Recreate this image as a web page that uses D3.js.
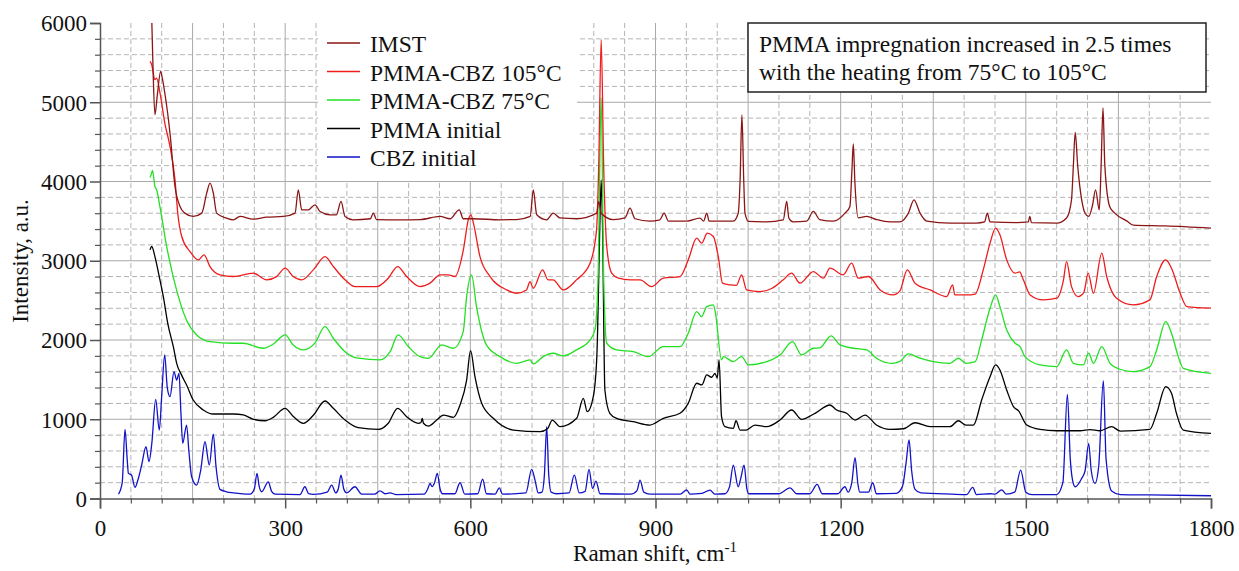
<!DOCTYPE html>
<html>
<head>
<meta charset="utf-8">
<script src="https://cdn.jsdelivr.net/npm/d3@7"></script>
<style>
  html, body { margin: 0; padding: 0; background: #fff; }
  svg { display: block; }
  svg text { font-family: "Liberation Serif", "DejaVu Serif", serif !important; }
</style>
</head>
<body>
<svg id="chart" width="1239" height="571"></svg>
<script>
// ---------------- DATA ----------------
const xTickValues = [0, 300, 600, 900, 1200, 1500, 1800];
const yTickValues = [0, 1000, 2000, 3000, 4000, 5000, 6000];
const seriesNames = ["IMST", "PMMA-CBZ 105°C", "PMMA-CBZ 75°C", "PMMA initial", "CBZ initial"];
const seriesColors = ["#8b1515", "#ee1c1c", "#22e022", "#000000", "#1212c8"];
const noteLines = ["PMMA impregnation increased in 2.5 times", "with the heating from 75°C to 105°C"];

const imst = [[84,6000],[86,5400],[89,4843],[93,5100],[98.2,5390],[101,5300],[105,5117],[113.4,4611],[121.5,3937],[129.6,3685],[137.7,3601],[151,3559],[164.8,3601],[172.9,3853],[178.2,3980],[183.6,3853],[189,3601],[205,3538],[216,3517],[226.8,3559],[248.4,3525],[270,3550],[297,3559],[316,3601],[321.3,3895],[326.8,3643],[337.6,3643],[348.3,3706],[356.5,3622],[373,3580],[383,3580],[390.5,3748],[397,3559],[410.4,3517],[438,3530],[442.8,3601],[448,3520],[486,3517],[518.5,3520],[551,3559],[567,3530],[582,3643],[588.6,3530],[605,3530],[648.4,3517],[675,3520],[697,3560],[702,3895],[707.6,3580],[723.7,3517],[734.4,3601],[745,3540],[772,3530],[804.6,3601],[808,3750],[812,3600],[831.6,3520],[850.5,3540],[858.7,3664],[866.8,3530],[891,3500],[907,3517],[914,3601],[921,3500],[950.6,3500],[972,3538],[978,3500],[983,3601],[987,3500],[1026,3500],[1034,3600],[1037,4000],[1040,4840],[1043,4000],[1045,3600],[1050.6,3496],[1080,3490],[1107,3517],[1112.6,3748],[1116,3540],[1123,3490],[1145,3500],[1155.7,3622],[1166,3520],[1188,3500],[1207,3601],[1215,3685],[1218,4100],[1220.5,4475],[1223,4000],[1228.6,3540],[1242,3559],[1258,3520],[1280,3490],[1296,3490],[1309.7,3601],[1318.8,3769],[1328.6,3601],[1339.6,3500],[1377,3475],[1420,3475],[1433,3490],[1437.6,3601],[1442,3490],[1485,3480],[1504,3490],[1506.5,3559],[1509,3480],[1550,3475],[1566,3540],[1574,3769],[1577,4200],[1580,4620],[1584,4200],[1590.5,3769],[1596,3600],[1601.8,3559],[1608,3700],[1613,3895],[1619,3643],[1622,4200],[1625,4930],[1628,4200],[1636,3680],[1644,3601],[1664,3500],[1674,3450],[1726,3440],[1800,3411]];

const pmmaCbz105 = [[81,5516],[83.8,5474],[89,5285],[91.7,5305],[97.2,5117],[105,4738],[113.4,4442],[121.5,4022],[126,3600],[132.4,3306],[145.8,3116],[159.3,3011],[168.5,3074],[178.2,2927],[194.4,2822],[216,2801],[248.4,2843],[270,2759],[286,2800],[300,2906],[313,2801],[326.8,2759],[345.6,2885],[364.6,3053],[378,2927],[397,2759],[413,2674],[448,2674],[467,2780],[482.2,2927],[496.8,2801],[518.5,2674],[534.7,2717],[550.9,2822],[564,2822],[575,2801],[588.7,3137],[596.7,3516],[601,3580],[605,3475],[615.6,3053],[632,2801],[659,2632],[675,2590],[691,2632],[696.7,2737],[702,2653],[717,2885],[726,2759],[734,2759],[750.6,2632],[772,2759],[794,2969],[804.5,3390],[808,4200],[812,5790],[816,4200],[821,3180],[829,2843],[840,2780],[859,2759],[875,2759],[893.7,2674],[912.7,2780],[939.7,2801],[953,3011],[966.8,3285],[974.7,3222],[984,3348],[993.7,3306],[1001.7,3053],[1008.6,2717],[1021,2695],[1031,2690],[1039.5,2822],[1047.6,2632],[1069,2611],[1088,2650],[1107,2759],[1120.5,2843],[1134,2717],[1155.7,2864],[1172,2780],[1182.7,2906],[1204,2822],[1217.8,2969],[1228.6,2780],[1245,2801],[1264,2632],[1285,2569],[1296,2620],[1308,2885],[1320.5,2717],[1345,2632],[1371.7,2548],[1381.4,2695],[1385,2570],[1404,2569],[1418,2580],[1431,2885],[1442,3222],[1451,3411],[1458,3327],[1469,3011],[1482.6,2843],[1490,2860],[1496,2759],[1507,2569],[1528,2506],[1550,2527],[1561,2759],[1566,2990],[1574,2674],[1585,2548],[1594,2600],[1601,2843],[1609.5,2590],[1623,3095],[1631,2801],[1647,2527],[1674,2443],[1701,2506],[1712,2801],[1726.6,3011],[1736,2906],[1750,2590],[1761,2421],[1800,2401]];

const pmmaCbz75 = [[81,4050],[83.7,4106],[85,4140],[89,3937],[91.7,3895],[97,3685],[108,3180],[124,2632],[140,2253],[156.6,2064],[178,1980],[216,1959],[232,1959],[264.6,1896],[281,1950],[300,2064],[313,1938],[329.4,1875],[348,1960],[364.6,2169],[378,2022],[397,1853],[418.5,1770],[453.7,1748],[470,1853],[483,2064],[499.5,1917],[518.5,1790],[532,1769],[553.6,1938],[572.5,1896],[588.5,2106],[594,2548],[602,2822],[610,2421],[626,1938],[648,1790],[675,1706],[696.7,1748],[702,1700],[718,1790],[734,1833],[750.6,1800],[772,1875],[794,2001],[802,2127],[807,2800],[812,5054],[816,2800],[821,1959],[837,1875],[864,1853],[888,1790],[912.7,1917],[939.7,1917],[953,2085],[966.8,2359],[974.7,2295],[983,2421],[993.7,2443],[997,2350],[1007,1748],[1010,1790],[1026,1727],[1039.5,1790],[1050.5,1685],[1080,1727],[1101.7,1811],[1122,1980],[1136.7,1811],[1155.6,1896],[1166,1900],[1184.4,2052],[1199,1938],[1220.5,1896],[1242,1875],[1258,1770],[1282.6,1706],[1296,1730],[1309.7,1824],[1328.6,1770],[1350,1727],[1377,1706],[1390.7,1770],[1403,1706],[1418,1727],[1428.4,2001],[1442,2400],[1451,2569],[1458,2421],[1469,2127],[1482.6,1959],[1490.6,1917],[1498.6,1790],[1523,1685],[1550,1664],[1566,1875],[1577,1706],[1593,1685],[1601.8,1833],[1609.5,1706],[1623,1917],[1636.4,1706],[1652.6,1631],[1674,1601],[1701,1664],[1712,1875],[1726.6,2232],[1736,2085],[1747,1790],[1755,1643],[1800,1580]];

const pmmaInitial = [[81,3137],[83.8,3180],[89,3053],[96,2800],[102.6,2548],[110,2200],[118.8,1916],[124.2,1706],[132,1560],[140.3,1432],[151,1243],[167.3,1117],[183.6,1066],[216,1066],[232.2,1054],[248.4,999],[267.4,981],[280.8,1024],[299.8,1138],[313.2,1035],[329.4,949],[345.6,1050],[364.6,1230],[378,1138],[397,990],[418.5,893],[451,872],[467,949],[482.2,1138],[496.8,1032],[515.7,949],[520,960],[522.2,1010],[524,950],[532,914],[545.5,990],[556.3,1053],[572.5,1024],[583.3,1180],[594,1495],[600.4,1866],[607.5,1537],[618.4,1201],[637.2,1012],[669.7,864],[712.9,843],[725,880],[732.8,990],[745.3,906],[772.3,1012],[783,1264],[789.5,1095],[799.2,1285],[805,1800],[810,3500],[812,4020],[814,3500],[818,1369],[826,1075],[837,1012],[864,969],[891,927],[912.7,1012],[939.7,1075],[953,1201],[966.8,1454],[975,1433],[983,1559],[991,1530],[996.4,1580],[1000,1520],[1003,1748],[1007,1032],[1012.6,906],[1026,885],[1030.4,981],[1037,864],[1047,864],[1061,927],[1080,906],[1101.7,990],[1120.5,1117],[1136.7,999],[1158.4,1075],[1182.7,1180],[1193.5,1117],[1209.7,1075],[1223.3,990],[1239.5,1053],[1258,927],[1280,872],[1302,880],[1320.5,956],[1344.8,906],[1377,906],[1390.7,981],[1403,927],[1415,927],[1428.4,1243],[1442,1537],[1451,1685],[1458,1622],[1469,1369],[1480,1158],[1488,1108],[1501.5,927],[1523,872],[1550,855],[1588,855],[1604,870],[1620,855],[1639,906],[1653,851],[1701,872],[1712,1075],[1726.6,1411],[1736,1327],[1744,1075],[1755,864],[1800,822]];

const cbzInitial = [[30,55],[36,200],[40.5,873],[44,500],[46,317],[51,296],[56.7,140],[62,250],[67.5,422],[74.5,653],[79.4,464],[84,700],[90.2,1252],[96.1,864],[100,1300],[104.8,1811],[109,1400],[113.4,1285],[119.9,1601],[124.2,1495],[128,1580],[131,1100],[134,696],[140.3,927],[144,600],[148.5,274],[156.6,169],[163,350],[170.1,716],[177.1,422],[183.6,813],[188,400],[194.4,115],[205,85],[216,72],[243,55],[250,120],[254.4,317],[258,150],[262,85],[272.6,211],[278,90],[283.6,55],[324,50],[332,148],[338,60],[345.6,52],[368,80],[375.4,169],[382,70],[386,120],[390.5,296],[395,120],[399.5,70],[413,148],[424,55],[445,55],[453.7,97],[462,60],[470,70],[480,50],[525,55],[531,120],[534.7,190],[538,150],[542,200],[546.5,317],[551,120],[555,60],[575,60],[583.3,199],[591,55],[612,60],[620,245],[626,60],[640,55],[647,135],[652,55],[690,70],[699.4,367],[704.8,232],[710,70],[716,80],[720,300],[723.7,906],[727,300],[731,80],[740,60],[760,70],[768.5,296],[776.5,70],[786,90],[792.3,367],[798,128],[803.6,220],[810,60],[860,55],[870,100],[875,232],[881,80],[891,55],[940,55],[950.6,110],[956,55],[975,65],[988.3,106],[996,55],[1012.6,60],[1020,150],[1026,422],[1034,148],[1038,250],[1043.5,422],[1048,120],[1051,60],[1100,60],[1118,135],[1129,60],[1150,60],[1162,178],[1170,60],[1195,60],[1207,148],[1212,80],[1218,200],[1223.3,514],[1228,180],[1231,80],[1245,80],[1252,199],[1258,60],[1290,65],[1300,150],[1306,450],[1310.8,738],[1315,350],[1320.5,115],[1330,70],[1380,55],[1404,50],[1414,140],[1420,50],[1442,60],[1450,55],[1461,110],[1468,55],[1482,80],[1491.6,359],[1500,80],[1510,50],[1550,50],[1560,200],[1567.3,1314],[1572,500],[1576,220],[1580,148],[1590.5,254],[1596,350],[1601.8,696],[1606,350],[1612,190],[1618,400],[1625.6,1487],[1630,500],[1639,95],[1653,50],[1700,45],[1800,35]];

const allSeries = [imst, pmmaCbz105, pmmaCbz75, pmmaInitial, cbzInitial];

// ---------------- LAYOUT ----------------
const FONT = "Liberation Serif, DejaVu Serif, serif";
const svg = d3.select("#chart");
const pLeft = 100, pRight = 1211, pTop = 23, pBottom = 498.5;

const x = d3.scaleLinear().domain([0, 1800]).range([pLeft, pRight]);
const y = d3.scaleLinear().domain([0, 6000]).range([pBottom, pTop]);

// grid
const grid = svg.append("g");
const xGridVals = d3.range(50, 1800, 50);
const yGridVals = d3.range(200, 6000, 200);
grid.selectAll("line.vx").data(xGridVals).join("line")
  .attr("x1", d => x(d)).attr("x2", d => x(d))
  .attr("y1", pTop).attr("y2", pBottom)
  .attr("stroke", d => d % 150 === 0 ? "#a9a9a9" : "#b4b4b4")
  .attr("stroke-width", 1)
  .attr("stroke-dasharray", d => d % 150 === 0 ? null : "5,3");
grid.selectAll("line.hy").data(yGridVals).join("line")
  .attr("x1", pLeft).attr("x2", pRight)
  .attr("y1", d => y(d)).attr("y2", d => y(d))
  .attr("stroke", d => d % 1000 === 0 ? "#a9a9a9" : "#b4b4b4")
  .attr("stroke-width", 1)
  .attr("stroke-dasharray", d => d % 1000 === 0 ? null : "5,3");

// legend background (covers grid)
svg.append("rect").attr("x", 318).attr("y", pTop).attr("width", 259).attr("height", 158)
  .attr("fill", "#fff");

// series
svg.append("clipPath").attr("id", "plotclip").append("rect")
  .attr("x", pLeft).attr("y", pTop).attr("width", pRight - pLeft).attr("height", pBottom - pTop);
const line = d3.line().x(d => x(d[0])).y(d => y(d[1])).curve(d3.curveMonotoneX);
const order = [4, 3, 2, 1, 0];
svg.append("g").attr("clip-path", "url(#plotclip)")
  .selectAll("path").data(order).join("path")
  .attr("d", i => line(allSeries[i]))
  .attr("fill", "none")
  .attr("stroke", i => seriesColors[i])
  .attr("stroke-width", 1.3)
  .attr("stroke-linejoin", "round");

// axes
const axisColor = "#555";
const xAxis = d3.axisBottom(x).tickValues(xTickValues).tickSize(10).tickFormat(d3.format("d"));
const gx = svg.append("g").attr("transform", `translate(0,${pBottom})`).call(xAxis)
  .attr("font-family", FONT);
gx.select(".domain").attr("stroke", axisColor).attr("stroke-width", 1.5);
gx.selectAll(".tick line").attr("stroke", axisColor).attr("stroke-width", 1.5);
gx.selectAll(".tick text").attr("font-size", 23).attr("fill", "#111")
  .attr("font-family", FONT).attr("dy", 0).attr("y", 37);
const xMinor = d3.axisBottom(x).tickValues(d3.range(0, 1801, 50).filter(v => v % 300 !== 0)).tickSize(5).tickFormat("");
const gxm = svg.append("g").attr("transform", `translate(0,${pBottom})`).call(xMinor);
gxm.select(".domain").remove();
gxm.selectAll(".tick line").attr("stroke", axisColor).attr("stroke-width", 1.2);

const yAxis = d3.axisLeft(y).tickValues(yTickValues).tickSize(10).tickFormat(d3.format("d"));
const gy = svg.append("g").attr("transform", `translate(${pLeft},0)`).call(yAxis)
  .attr("font-family", FONT);
gy.select(".domain").attr("stroke", axisColor).attr("stroke-width", 1.5);
gy.selectAll(".tick line").attr("stroke", axisColor).attr("stroke-width", 1.5);
gy.selectAll(".tick text").attr("font-size", 23).attr("fill", "#111")
  .attr("font-family", FONT).attr("x", -13).attr("dy", "0.34em");
const yMinor = d3.axisLeft(y).tickValues(d3.range(0, 6001, 200).filter(v => v % 1000 !== 0)).tickSize(5).tickFormat("");
const gym = svg.append("g").attr("transform", `translate(${pLeft},0)`).call(yMinor);
gym.select(".domain").remove();
gym.selectAll(".tick line").attr("stroke", axisColor).attr("stroke-width", 1.2);

// axis titles
svg.append("text").attr("transform", "translate(28,261) rotate(-90)")
  .attr("text-anchor", "middle").attr("font-size", 23).attr("fill", "#111")
  .attr("font-family", FONT)
  .text("Intensity, a.u.");
const xt = svg.append("text").attr("x", 655).attr("y", 561).attr("text-anchor", "middle")
  .attr("font-size", 23).attr("fill", "#111").attr("font-family", FONT);
xt.append("tspan").text("Raman shift, cm");
xt.append("tspan").attr("font-size", 15).attr("dy", -9).text("-1");

// legend
const lg = svg.append("g");
seriesNames.forEach((name, i) => {
  const yy = 43 + i * 28.5;
  lg.append("line").attr("x1", 327).attr("x2", 360).attr("y1", yy).attr("y2", yy)
    .attr("stroke", seriesColors[i]).attr("stroke-width", 1.5);
  lg.append("text").attr("x", 370).attr("y", yy + 9).attr("font-size", 23.5)
    .attr("font-family", FONT).attr("fill", "#111").text(name);
});

// annotation box
svg.append("rect").attr("x", 748).attr("y", 23).attr("width", 458).attr("height", 69)
  .attr("fill", "#fff").attr("stroke", "#222").attr("stroke-width", 1.5);
noteLines.forEach((t, i) => {
  svg.append("text").attr("x", 759).attr("y", 52 + i * 28).attr("font-size", 23.5)
    .attr("font-family", FONT).attr("fill", "#111").text(t);
});
</script>
</body>
</html>
